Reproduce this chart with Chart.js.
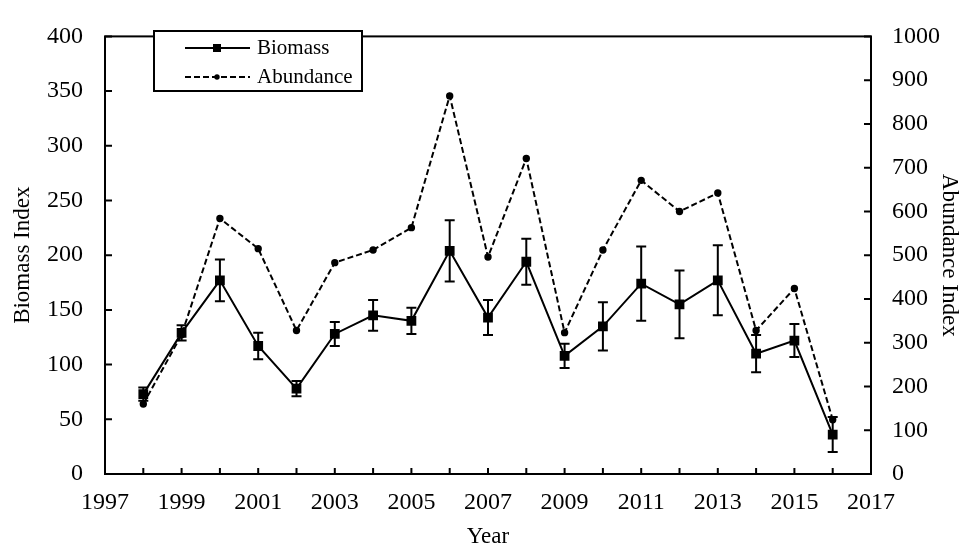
<!DOCTYPE html>
<html>
<head>
<meta charset="utf-8">
<script src="https://cdn.jsdelivr.net/npm/chart.js@4.4.1/dist/chart.umd.min.js"></script>
<style>
  html, body { margin: 0; padding: 0; background: #fff; }
  #wrap { width: 966px; height: 548px; }
</style>
</head>
<body>
<div id="wrap"><canvas id="biomassChart" width="966" height="548"></canvas></div>
<script>
const years = [1998, 1999, 2000, 2001, 2002, 2003, 2004, 2005, 2006, 2007, 2008, 2009, 2010, 2011, 2012, 2013, 2014, 2015, 2016];
const biomass = [73, 129, 177, 117, 78, 128, 145, 140, 204, 143, 194, 108, 135, 174, 155, 177, 110, 122, 36];
const biomassErr = [6, 7, 19, 12, 7, 11, 14, 12, 28, 16, 21, 11, 22, 34, 31, 32, 17, 15, 16];
const abundance = [160, 318, 584, 515, 328, 483, 512, 563, 864, 496, 721, 323, 512, 671, 600, 642, 328, 424, 124];

const FONT = "'Liberation Serif', 'Times New Roman', serif";

// frame, inward ticks, error bars and legend box
const extras = {
  id: "extras",
  afterDatasetsDraw(chart) {
    const ctx = chart.ctx;
    const x = chart.scales.x;
    const yl = chart.scales.y;
    const yr = chart.scales.y1;
    const a = chart.chartArea;
    ctx.save();
    ctx.strokeStyle = "#000";
    ctx.lineWidth = 2;

    // error bars on biomass
    years.forEach((yr_, i) => {
      const px = x.getPixelForValue(yr_);
      const top = yl.getPixelForValue(biomass[i] + biomassErr[i]);
      const bot = yl.getPixelForValue(biomass[i] - biomassErr[i]);
      ctx.beginPath();
      ctx.moveTo(px, top); ctx.lineTo(px, bot);
      ctx.moveTo(px - 5, top); ctx.lineTo(px + 5, top);
      ctx.moveTo(px - 5, bot); ctx.lineTo(px + 5, bot);
      ctx.stroke();
    });

    // frame
    ctx.strokeRect(a.left, a.top, a.right - a.left, a.bottom - a.top);

    // inward tick marks
    ctx.beginPath();
    x.ticks.forEach((t) => {
      const px = x.getPixelForValue(t.value);
      ctx.moveTo(px, a.bottom); ctx.lineTo(px, a.bottom - 6);
    });
    yl.ticks.forEach((t) => {
      const py = yl.getPixelForValue(t.value);
      ctx.moveTo(a.left, py); ctx.lineTo(a.left + 7, py);
    });
    yr.ticks.forEach((t) => {
      const py = yr.getPixelForValue(t.value);
      ctx.moveTo(a.right, py); ctx.lineTo(a.right - 7, py);
    });
    ctx.stroke();

    // legend
    ctx.fillStyle = "#fff";
    ctx.fillRect(154, 31, 208, 60);
    ctx.strokeRect(154, 31, 208, 60);
    ctx.fillStyle = "#000";
    ctx.font = "21px " + FONT;
    ctx.textBaseline = "middle";

    ctx.beginPath();
    ctx.moveTo(185, 48); ctx.lineTo(250, 48);
    ctx.stroke();
    ctx.fillRect(217 - 4, 48 - 4, 8, 8);
    ctx.fillText("Biomass", 257, 48);

    ctx.setLineDash([6, 3]);
    ctx.beginPath();
    ctx.moveTo(185, 77); ctx.lineTo(250, 77);
    ctx.stroke();
    ctx.setLineDash([]);
    ctx.beginPath();
    ctx.arc(217, 77, 2.7, 0, Math.PI * 2);
    ctx.fill();
    ctx.fillText("Abundance", 257, 77);
    ctx.restore();
  },
};

const ctx = document.getElementById("biomassChart").getContext("2d");

const chart = new Chart(ctx, {
  type: "line",
  data: {
    datasets: [
      {
        label: "Abundance",
        data: years.map((y, i) => ({ x: y, y: abundance[i] })),
        yAxisID: "y1",
        borderColor: "#000",
        backgroundColor: "#000",
        borderWidth: 2,
        borderDash: [6, 3],
        pointStyle: "circle",
        pointRadius: 2.7,
        tension: 0,
      },
      {
        label: "Biomass",
        data: years.map((y, i) => ({ x: y, y: biomass[i] })),
        yAxisID: "y",
        borderColor: "#000",
        backgroundColor: "#000",
        borderWidth: 2,
        pointStyle: "rect",
        pointRadius: 5.5,
        tension: 0,
      },
    ],
  },
  options: {
    responsive: false,
    animation: false,
    layout: { padding: { top: 18, left: 0, right: 0, bottom: 0 } },
    plugins: {
      legend: { display: false },
      tooltip: { enabled: false },
    },
    scales: {
      x: {
        type: "linear",
        min: 1997,
        max: 2017,
        grid: { display: false, drawTicks: false },
        border: { display: false },
        ticks: {
          stepSize: 1,
          autoSkip: false,
          maxRotation: 0,
          padding: 14,
          color: "#000",
          font: { family: FONT, size: 24 },
          callback: (v) => (v % 2 === 1 ? String(v) : ""),
        },
        title: {
          display: true,
          text: "Year",
          color: "#000",
          font: { family: FONT, size: 23 },
          padding: { top: 0, bottom: -3 },
        },
        afterFit: (s) => { s.height = 74; },
      },
      y: {
        position: "left",
        min: 0,
        max: 400,
        grid: { display: false, drawTicks: false },
        border: { display: false },
        ticks: {
          stepSize: 50,
          padding: 22,
          color: "#000",
          font: { family: FONT, size: 24 },
          callback: (v) => String(v),
        },
        title: {
          display: true,
          text: "Biomass Index",
          color: "#000",
          font: { family: FONT, size: 23 },
          padding: { top: 9, bottom: 0 },
        },
        afterFit: (s) => { s.width = 105; },
      },
      y1: {
        position: "right",
        min: 0,
        max: 1000,
        grid: { display: false, drawTicks: false },
        border: { display: false },
        ticks: {
          stepSize: 100,
          padding: 21,
          color: "#000",
          font: { family: FONT, size: 24 },
          callback: (v) => String(v),
        },
        title: {
          display: true,
          text: "Abundance Index",
          color: "#000",
          font: { family: FONT, size: 23 },
          padding: { top: 3, bottom: 0 },
        },
        afterFit: (s) => { s.width = 95; },
      },
    },
  },
  plugins: [extras],
});
</script>
</body>
</html>
